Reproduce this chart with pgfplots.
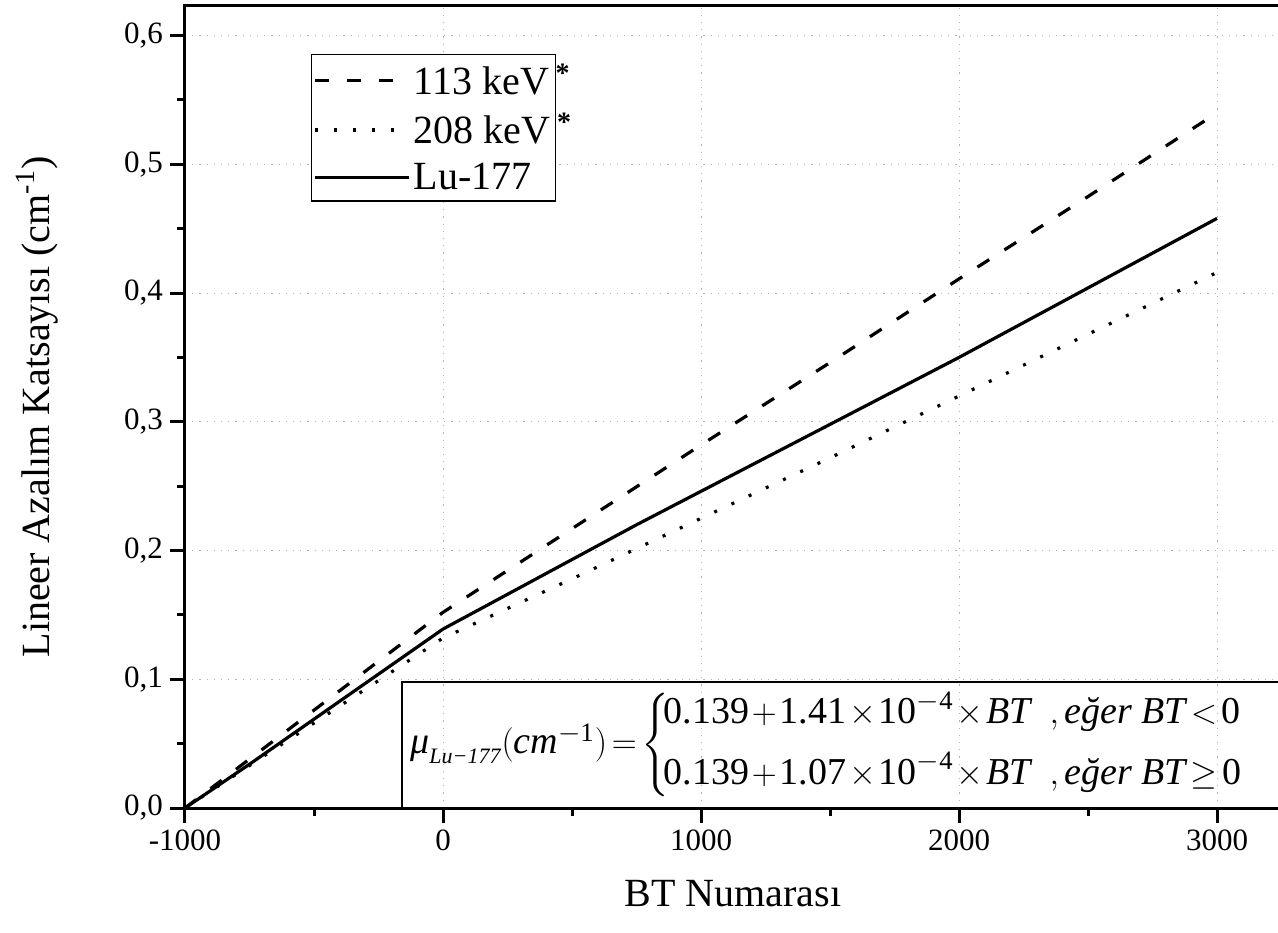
\documentclass[border=0pt]{standalone}
\usepackage{amsmath}
\usepackage{fontspec}
\setmainfont{Liberation Serif}
\usepackage{pgfplots}
\pgfplotsset{compat=1.18}
\begin{document}
\begin{tikzpicture}
\useasboundingbox (-92.5pt,-62pt) rectangle (546.5pt,404pt);
\clip (-92.5pt,-62pt) rectangle (546.5pt,404pt);
\begin{axis}[
  at={(0,0)}, anchor=south west,
  scale only axis, width=554.7pt, height=401pt,
  xmin=-1000, xmax=3300, ymin=0, ymax=0.623,
  xtick={-1000,0,1000,2000,3000},
  xticklabels={-1000,0,1000,2000,3000},
  ytick={0,0.1,0.2,0.3,0.4,0.5,0.6},
  yticklabels={{0,0},{0,1},{0,2},{0,3},{0,4},{0,5},{0,6}},
  minor x tick num=1, minor y tick num=1,
  tick pos=left, tick align=outside,
  major tick length=7.5pt, minor tick length=4pt,
  every tick/.style={line width=1.5pt, black},
  axis line style={line width=1.5pt},
  grid=major,
  major grid style={gray!60, line width=0.5pt, dash pattern=on 0.6pt off 3pt},
  tick label style={font=\fontsize{15.5}{18}\selectfont},
  /pgf/number format/assume math mode=true,
  xlabel={BT Numarası},
  ylabel={Lineer Azalım Katsayısı (cm\textsuperscript{-1})},
  label style={font=\fontsize{20}{24}\selectfont},
  xlabel style={at={(axis description cs:0.494,-0.1234)}, anchor=base},
  ylabel style={at={(axis description cs:-0.1217,0.5)}, anchor=base},
  legend style={at={(0.1136,0.940)}, anchor=north west, draw=black, line width=0.6pt,
    inner xsep=1pt, inner ysep=3pt, row sep=5pt, font=\fontsize{20}{24}\selectfont,
    nodes={inner sep=1.5pt}, cells={anchor=west}},
  legend image code/.code={\draw[#1] (0pt,0pt) -- (47pt,0pt);},
]
\addplot[black, line width=1.6pt, dash pattern=on 7pt off 9pt] coordinates {
(-1000,0) (-500,0.076) (0,0.152) (500,0.217) (1000,0.282) (1500,0.346) (2000,0.411) (2500,0.475) (3000,0.540)};
\addlegendentry{113 keV\rlap{\,\raisebox{0.3em}{\fontsize{14}{14}\selectfont\bfseries *}}}
\addplot[black, line width=1.6pt, dash pattern=on 1.5pt off 8pt] coordinates {
(-1000,0) (-500,0.066) (0,0.132) (500,0.178) (1000,0.225) (1500,0.272) (2000,0.320) (2500,0.368) (3000,0.416)};
\addlegendentry{208 keV\rlap{\,\raisebox{0.3em}{\fontsize{14}{14}\selectfont\bfseries *}}}
\addplot[black, line width=1.6pt] coordinates {
(-1000,0) (-750,0.034) (-500,0.069) (-250,0.104) (0,0.139) (250,0.166) (500,0.193) (750,0.220) (1000,0.246) (1250,0.272) (1500,0.298) (1750,0.324) (2000,0.350) (2250,0.377) (2500,0.404) (2750,0.431) (3000,0.458)};
\addlegendentry{Lu-177}
\draw[line width=1pt] (axis cs:-159,0) rectangle (axis cs:3400,0.098);
\node[anchor=west, inner sep=0pt, font=\fontsize{19}{22.5}\selectfont] at (axis cs:-128,0.049)
{\medmuskip=1.5mu\thickmuskip=2.5mu
$\textit{μ}_{\mbox{\fontsize{11}{12}\selectfont\itshape Lu−177}}(\textit{cm}^{-\text{1}})=\left\{\mkern-3mu\begin{array}{@{}l@{}}
\text{0.139}+\text{1.41}\times\text{10}^{-\text{4}}\times\textit{BT}\hspace{0.5em},\textit{eğer BT}<\text{0}\\[7.5pt]
\text{0.139}+\text{1.07}\times\text{10}^{-\text{4}}\times\textit{BT}\hspace{0.5em},\textit{eğer BT}\geq\text{0}
\end{array}\right.$};
\end{axis}
\end{tikzpicture}
\end{document}
